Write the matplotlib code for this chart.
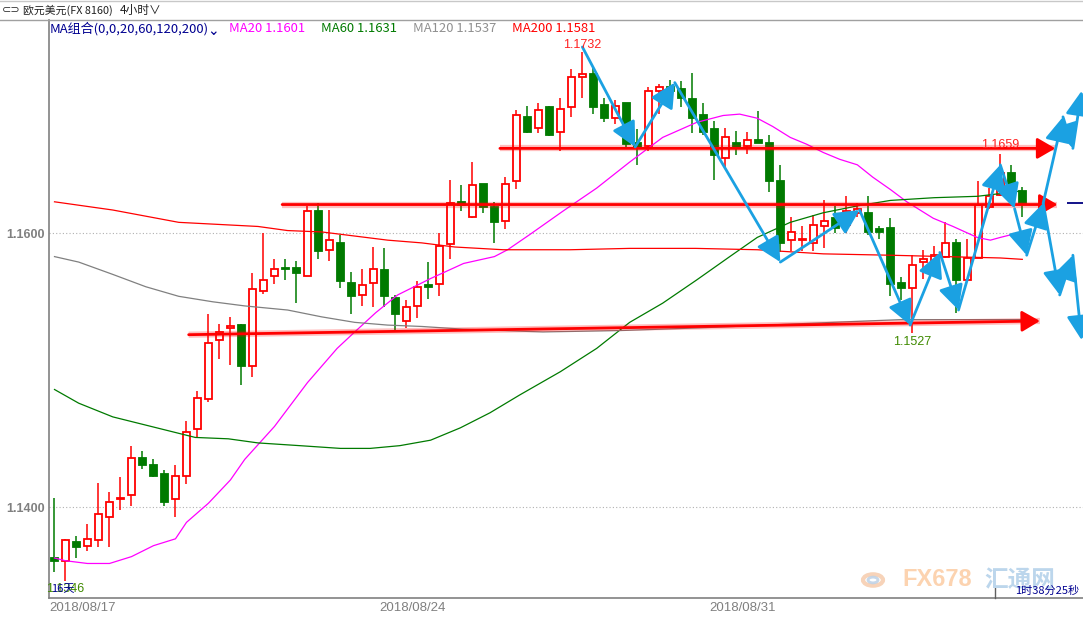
import matplotlib.pyplot as plt
from matplotlib.patches import Circle

W, H = 1083, 618

# EUR/USD 4h candles, bar 0 = first bar of 2018/08/17
opens = [1.1363, 1.1361, 1.1375, 1.1372, 1.1376, 1.1393, 1.1406, 1.1409, 1.1436, 1.1431,
         1.1424, 1.1406, 1.1423, 1.1457, 1.1479, 1.1522, 1.1531, 1.1533, 1.1503, 1.1558,
         1.1569, 1.1575, 1.1575, 1.1569, 1.1616, 1.1588, 1.1593, 1.1564, 1.1555, 1.1564,
         1.1573, 1.1553, 1.1536, 1.1547, 1.1562, 1.1563, 1.1592, 1.1623, 1.1612, 1.1636,
         1.1619, 1.1609, 1.1638, 1.1685, 1.1677, 1.1692, 1.1674, 1.1692, 1.1714, 1.1716,
         1.1694, 1.1684, 1.1695, 1.1666, 1.1664, 1.1704, 1.1707, 1.1705, 1.1698, 1.1686,
         1.1676, 1.1655, 1.1666, 1.1664, 1.1668, 1.1666, 1.1638, 1.1595, 1.1595, 1.1593,
         1.1605, 1.1611, 1.1606, 1.1615, 1.1615, 1.1603, 1.1604, 1.1564, 1.1560, 1.1579,
         1.1580, 1.1583, 1.1593, 1.1566, 1.1582, 1.1619, 1.1628, 1.1644, 1.1631]
highs = [1.1407, 1.1377, 1.1379, 1.1388, 1.1418, 1.1411, 1.1422, 1.1445, 1.1441, 1.1435,
         1.1427, 1.1431, 1.1463, 1.1485, 1.1541, 1.1534, 1.1539, 1.1534, 1.1571, 1.1600,
         1.1581, 1.1581, 1.1580, 1.1620, 1.1622, 1.1617, 1.1599, 1.1572, 1.1574, 1.1590,
         1.1589, 1.1555, 1.1551, 1.1565, 1.1579, 1.1600, 1.1639, 1.1635, 1.1652, 1.1636,
         1.1623, 1.1641, 1.1690, 1.1693, 1.1695, 1.1693, 1.1699, 1.1720, 1.1732, 1.1721,
         1.1699, 1.1697, 1.1695, 1.1676, 1.1707, 1.1709, 1.1712, 1.1711, 1.1717, 1.1695,
         1.1682, 1.1677, 1.1675, 1.1674, 1.1689, 1.1672, 1.1650, 1.1612, 1.1605, 1.1613,
         1.1624, 1.1620, 1.1627, 1.1622, 1.1627, 1.1605, 1.1611, 1.1568, 1.1584, 1.1588,
         1.1591, 1.1608, 1.1596, 1.1596, 1.1638, 1.1633, 1.1658, 1.1650, 1.1634]
lows = [1.1353, 1.1346, 1.1363, 1.1368, 1.1371, 1.1371, 1.1398, 1.1401, 1.1428, 1.1422,
        1.1401, 1.1393, 1.1417, 1.1451, 1.1477, 1.1508, 1.1504, 1.1489, 1.1495, 1.1556,
        1.1563, 1.1566, 1.1549, 1.1569, 1.1581, 1.1580, 1.1560, 1.1541, 1.1547, 1.1546,
        1.1546, 1.1529, 1.1531, 1.1538, 1.1552, 1.1554, 1.1581, 1.1616, 1.1611, 1.1615,
        1.1593, 1.1603, 1.1632, 1.1673, 1.1673, 1.1671, 1.1660, 1.1685, 1.1699, 1.1687,
        1.1681, 1.1680, 1.1662, 1.1650, 1.1660, 1.1687, 1.1701, 1.1692, 1.1673, 1.1672,
        1.1639, 1.1647, 1.1657, 1.1658, 1.1666, 1.1630, 1.1586, 1.1587, 1.1587, 1.1587,
        1.1589, 1.1600, 1.1600, 1.1612, 1.1599, 1.1596, 1.1554, 1.1551, 1.1527, 1.1567,
        1.1578, 1.1582, 1.1542, 1.1565, 1.1582, 1.1618, 1.1627, 1.1630, 1.1612]
closes = [1.1361, 1.1376, 1.1371, 1.1377, 1.1395, 1.1404, 1.1407, 1.1436, 1.1431, 1.1423,
          1.1404, 1.1423, 1.1455, 1.1480, 1.1520, 1.1528, 1.1532, 1.1503, 1.1559, 1.1566,
          1.1574, 1.1574, 1.1571, 1.1616, 1.1587, 1.1595, 1.1565, 1.1554, 1.1562, 1.1574,
          1.1554, 1.1541, 1.1546, 1.1561, 1.1561, 1.1591, 1.1622, 1.1621, 1.1635, 1.1619,
          1.1608, 1.1636, 1.1686, 1.1674, 1.1690, 1.1672, 1.1691, 1.1714, 1.1716, 1.1692,
          1.1684, 1.1693, 1.1665, 1.1663, 1.1704, 1.1707, 1.1704, 1.1699, 1.1684, 1.1674,
          1.1657, 1.1670, 1.1663, 1.1668, 1.1666, 1.1638, 1.1593, 1.1601, 1.1596, 1.1606,
          1.1609, 1.1604, 1.1616, 1.1618, 1.1601, 1.1601, 1.1563, 1.1560, 1.1577, 1.1581,
          1.1584, 1.1593, 1.1566, 1.1582, 1.1621, 1.1627, 1.1644, 1.1633, 1.1622]

# moving averages (bar index, price)
ma20_x = [0, 1, 3, 5, 7, 9, 11, 12, 14, 16, 17.3, 20, 23, 25.7, 27.3, 29.2, 31.2, 34.2, 37.2,
          40, 41.2, 43.2, 46.2, 49.3, 52.3, 55.3, 58.4, 60.8, 62.3, 63.9, 65.3, 66.9, 68.4,
          69.9, 71.4, 73, 74.4, 76, 77.5, 79.9, 81.7, 83.9, 85.1, 86, 88]
ma20_y = [1.1363, 1.1361, 1.1359, 1.1359, 1.1364, 1.1372, 1.1377, 1.1389, 1.1403, 1.1420,
          1.1435, 1.1459, 1.1491, 1.1516, 1.1528, 1.1542, 1.1555, 1.1567, 1.1578, 1.1583,
          1.1588, 1.1599, 1.1616, 1.1633, 1.1652, 1.1670, 1.1681, 1.1686, 1.1687, 1.1684,
          1.1678, 1.1670, 1.1665, 1.1659, 1.1654, 1.1650, 1.1641, 1.1632, 1.1623, 1.1611,
          1.1605, 1.1597, 1.1595, 1.1597, 1.1601]
ma60_x = [0, 2.2, 5.3, 8.3, 11.3, 12.8, 15.8, 18.5, 22.3, 26, 28.7, 31.4, 34.2, 36.9, 39.6,
          42.3, 46, 49.3, 52.3, 55.3, 58.4, 61.4, 63.9, 66.9, 69.9, 73, 76, 80, 83.9, 86, 88]
ma60_y = [1.1486, 1.1476, 1.1466, 1.1460, 1.1454, 1.1451, 1.1450, 1.1447, 1.1445, 1.1443,
          1.1443, 1.1445, 1.1449, 1.1458, 1.1469, 1.1482, 1.1499, 1.1516, 1.1535, 1.1549,
          1.1566, 1.1583, 1.1597, 1.1608, 1.1615, 1.1620, 1.1624, 1.1626, 1.1627, 1.1629, 1.1631]
ma120_x = [0, 2.2, 5.3, 8.3, 11.3, 14.4, 17.3, 21.2, 24.3, 27.3, 30.3, 33.4, 37.2, 44.4,
           51.4, 58.7, 64.8, 70.8, 76.9, 88]
ma120_y = [1.1583, 1.1579, 1.1570, 1.1561, 1.1554, 1.1550, 1.1547, 1.1544, 1.1539, 1.1535,
           1.1533, 1.1532, 1.1530, 1.1528, 1.1529, 1.1531, 1.1533, 1.1535, 1.1537, 1.1537]
ma200_x = [0, 5.3, 11.3, 18.5, 21.2, 24.3, 27.3, 30.3, 33.4, 36.4, 40.8, 46.9, 52.3, 58.3,
           63.9, 69.9, 76, 86, 88]
ma200_y = [1.1623, 1.1617, 1.1608, 1.1605, 1.1602, 1.1601, 1.1598, 1.1595, 1.1593, 1.1590,
           1.1588, 1.1588, 1.1589, 1.1589, 1.1588, 1.1585, 1.1584, 1.1582, 1.1581]

# drawn support / resistance lines (start bar, start price, end bar, end price)
sr_lines = [(40.5, 1.1662, 91.0, 1.1662),
            (20.7, 1.1621, 91.2, 1.1621),
            (12.2, 1.1526, 89.6, 1.1536)]

# blue zigzag path (bar, price), then the two forecast branches
zig_x = [48, 52.8, 56.4, 66.0, 73.2, 77.8, 80.5, 82.2, 86.0, 87.3, 88.4, 89.9]
zig_y = [1.1736, 1.1663, 1.1710, 1.1579, 1.1617, 1.1533, 1.1586, 1.1544, 1.1650, 1.1618, 1.1584, 1.1622]
up_x = [89.9, 91.7, 92.6, 93.4]
up_y = [1.1622, 1.1685, 1.1662, 1.1704]
dn_x = [89.9, 91.4, 92.6, 93.4]
dn_y = [1.1622, 1.1555, 1.1584, 1.1522]

date_ticks = [0, 30, 60]
date_labels = ['2018/08/17', '2018/08/24', '2018/08/31']
price_ticks = [1.14, 1.16]
price_labels = ['1.1400', '1.1600']

plt.rcParams['font.family'] = ['Noto Sans CJK SC', 'DejaVu Sans']

fig = plt.figure(figsize=(W / 100, H / 100), dpi=100)
ax = fig.add_axes([49 / W, 20 / H, (W - 49) / W, 578 / H])
ax.set_xlim(-0.48, 93.52)
ax.set_ylim(1.13338, 1.17557)

UP = '#ff0000'
DOWN = '#007a00'
BLUE = '#1ba1e2'

for i in range(len(opens)):
    o, h, l, c = opens[i], highs[i], lows[i], closes[i]
    col = UP if c >= o else DOWN
    ax.vlines(i, l, h, color=col, lw=1.1, zorder=2)
    ax.bar(i, max(abs(c - o), 0.00001), bottom=min(o, c), width=0.68,
           facecolor='white' if c >= o else DOWN, edgecolor=col, lw=1.3, zorder=3)

ax.plot(ma20_x, ma20_y, color='#ff00ff', lw=0.9, zorder=4)
ax.plot(ma60_x, ma60_y, color='#007a00', lw=0.9, zorder=4)
ax.plot(ma120_x, ma120_y, color='#808080', lw=0.9, zorder=4)
ax.plot(ma200_x, ma200_y, color='#ff0000', lw=0.9, zorder=4)

for x0, y0, x1, y1 in sr_lines:
    ax.plot([x0, x1], [y0, y1], color='#ff0000', lw=4.5, alpha=0.25, zorder=5,
            solid_capstyle='butt')
    ax.annotate('', xy=(x1, y1), xytext=(x0, y0), zorder=5,
                arrowprops=dict(arrowstyle='-|>,head_length=0.55,head_width=0.32',
                                color='#ff0000', lw=2, mutation_scale=20,
                                shrinkA=0, shrinkB=0))


def arrows(xs, ys):
    for k in range(len(xs) - 1):
        ax.annotate('', xy=(xs[k + 1], ys[k + 1]), xytext=(xs[k], ys[k]), zorder=6,
                    annotation_clip=False,
                    arrowprops=dict(arrowstyle='-|>,head_length=0.75,head_width=0.38',
                                    color=BLUE, lw=2, mutation_scale=20,
                                    shrinkA=0, shrinkB=0))


arrows(zig_x, zig_y)
arrows(up_x, up_y)
arrows(dn_x, dn_y)

# high / low labels
num = 'Liberation Sans'
ax.annotate('1.1732', (48, highs[48]), xytext=(0, 1), textcoords='offset points',
            ha='center', va='bottom', color='#ff2020', fontsize=9, family=num, zorder=7)
ax.annotate('1.1659', (86, highs[86]), xytext=(0, 2), textcoords='offset points',
            ha='center', va='bottom', color='#ff2020', fontsize=9, family=num, zorder=7)
ax.annotate('1.1527', (78, lows[78]), xytext=(0, -2), textcoords='offset points',
            ha='center', va='top', color='#3f8a00', fontsize=9, family=num, zorder=7)
ax.annotate('1.1346', (1, lows[1]), xytext=(0, -1), textcoords='offset points',
            ha='center', va='top', color='#3f8a00', fontsize=9, family=num, zorder=7)

# current price marker at right edge
ax.hlines(closes[-1], 92.1, 93.5, color='#000080', lw=1.3, zorder=7)

ax.set_yticks(price_ticks)
ax.set_yticklabels(price_labels, family=num, fontsize=9, color='#808080', fontweight='bold')
ax.set_xticks([t - 0.5 for t in date_ticks])
ax.set_xticklabels(date_labels, family=num, fontsize=9.5, color='#808080', ha='left')
ax.tick_params(length=0, pad=3)
ax.grid(axis='y', color='#b0b0b0', ls=(0, (1, 2)), lw=0.8)
for s in ['top', 'right']:
    ax.spines[s].set_visible(False)
ax.spines['left'].set_color('#808080')
ax.spines['bottom'].set_color('#808080')
ax.spines['left'].set_linewidth(1.2)
ax.spines['bottom'].set_linewidth(1.2)


def ft(x, y, s, **kw):
    fig.text(x / W, 1 - y / H, s, va='center', **kw)


# header
fig.add_artist(plt.Line2D([0, 1], [1 - 20 / H, 1 - 20 / H], color='#a0a0a0', lw=1))
fig.add_artist(plt.Line2D([0, 1], [1 - 0.5 / H, 1 - 0.5 / H], color='#c8c8c8', lw=1))
ft(2, 10, '⊂⊃', fontsize=8, color='#333333', family='DejaVu Sans')
ft(23, 10, '欧元美元(FX 8160)', fontsize=7.8, color='#202020')
ft(120, 10, '4小时∨', fontsize=8.5, color='#202020')
ft(50, 29, 'MA组合(0,0,20,60,120,200)', fontsize=9.4, color='#000090')
ft(207, 31, '⌄', fontsize=10, color='#000090', family='DejaVu Sans')
ft(229, 29, 'MA20 1.1601', fontsize=9.4, color='#ff00ff')
ft(321, 29, 'MA60 1.1631', fontsize=9.4, color='#007a00')
ft(413, 29, 'MA120 1.1537', fontsize=9.4, color='#909090')
ft(512, 29, 'MA200 1.1581', fontsize=9.4, color='#ff0000')
ft(51, 589, '16天', fontsize=8, color='#000090')

# watermark
fig.add_artist(Circle((873 / W, 1 - 580 / H), 10 / W, transform=fig.transFigure,
                      fill=False, ec='#f5c9a8', lw=3, alpha=0.8))
fig.add_artist(Circle((873 / W, 1 - 580 / H), 5 / W, transform=fig.transFigure,
                      fill=False, ec='#b8cde4', lw=2, alpha=0.8))
ft(902, 580, 'FX678', fontsize=17, fontweight='bold', color='#fcd3b0', family=num)
ft(984, 580, '汇通网', fontsize=17, fontweight='bold', color='#bcd6ec')

# countdown
fig.add_artist(plt.Line2D([995 / W, 995 / W], [1 - 598 / H, 1 - 587 / H], color='#606060', lw=1))
ft(1015, 591, '1时38分25秒', fontsize=8, color='#000090')

fig.savefig('out.png', dpi=100)
